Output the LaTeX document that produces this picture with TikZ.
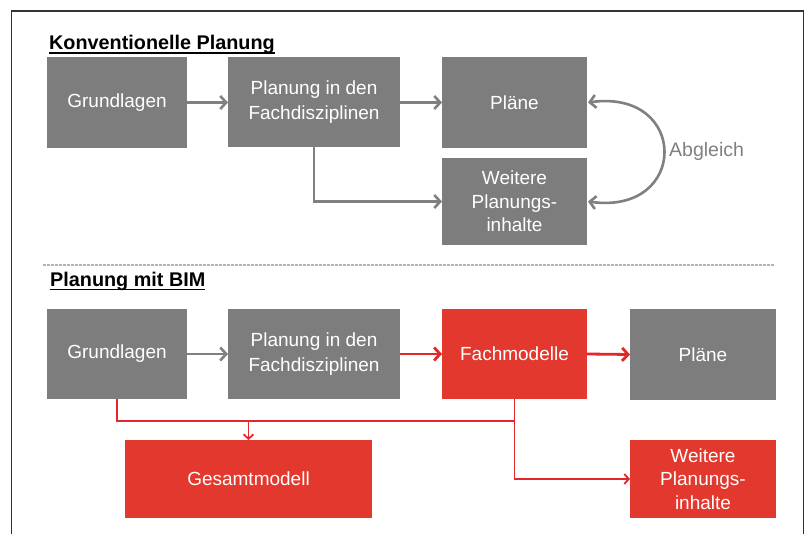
\documentclass[tikz,border=0pt]{standalone}
\usepackage{fontspec}
\setmainfont{Liberation Sans}
\usetikzlibrary{arrows.meta}
\definecolor{boxgray}{HTML}{7D7D7D}
\definecolor{boxred}{HTML}{E2382D}
\definecolor{linegray}{HTML}{808080}
\definecolor{linered}{HTML}{E3262A}
\definecolor{framecol}{HTML}{333333}
\begin{document}
\begin{tikzpicture}[x=1pt,y=-1pt,
  box/.style={fill=boxgray, text=white, inner sep=0pt, outer sep=0pt, align=center,
    font=\fontsize{19}{25}\selectfont},
  redbox/.style={box, fill=boxred},
  threeline/.style={font=\fontsize{19}{23.5}\selectfont},
  title/.style={inner sep=0pt, anchor=base west, font=\bfseries\fontsize{19.8}{22}\selectfont},
  garrow/.style={draw=linegray, line width=2.6pt, -{Straight Barb[length=6pt,width=13pt]}},
  rarrow/.style={draw=linered, line width=2.8pt, -{Straight Barb[length=6pt,width=13pt]}},
  rline/.style={draw=linered, line width=1.8pt},
  rthin/.style={rline, -{Straight Barb[length=4.5pt,width=10pt]}}
]
\useasboundingbox (0,0) rectangle (808,534);
\fill[white] (0,0) rectangle (808,534);
% frame
\draw[framecol, line width=1.6pt] (11.5,534) -- (11.5,10.8) -- (803.5,10.8) -- (803.5,534);

% titles
\node[title] (t1) at (49,50) {Konventionelle Planung};
\draw[line width=1.5pt] ([yshift=-2.8pt]t1.base west) -- ([yshift=-2.8pt]t1.base east);
\node[title] (t2) at (50,286.5) {Planung mit BIM};
\draw[line width=1.5pt] ([yshift=-2.8pt]t2.base west) -- ([yshift=-2.8pt]t2.base east);

% separator
\draw[gray!60, line width=1.2pt, dash pattern=on 2.5pt off 1.5pt] (43,265) -- (775,265);

% top diagram
\node[box, minimum width=140pt, minimum height=91pt] (g1) at (117,102.5) {Grundlagen};
\node[box, minimum width=172pt, minimum height=90pt] (p1) at (314,102.5) {Planung in den\\Fachdisziplinen};
\node[box, minimum width=145pt, minimum height=91pt] (pl1) at (514.5,102.5) {Pläne};
\node[box, threeline, minimum width=145pt, minimum height=87pt] (w1) at (514.5,201.5) {Weitere\\Planungs-\\inhalte};

\draw[garrow] (g1.east) -- (p1.west);
\draw[garrow] (p1.east) -- (pl1.west);
\draw[garrow] (p1.south) |- (w1.west);
\draw[draw=linegray, line width=2.6pt, {Straight Barb[length=6pt,width=13pt]}-{Straight Barb[length=6pt,width=13pt]}]
  ([xshift=1pt]pl1.east) .. controls +(101,-14) and +(101,14) .. ([xshift=1pt]w1.east);
\node[inner sep=0pt, anchor=west, text=linegray, font=\fontsize{19.5}{22}\selectfont] (ab) at (669,151.5) {Abgleich};

% bottom diagram
\node[box, minimum width=140pt, minimum height=90pt] (g2) at (117,354) {Grundlagen};
\node[box, minimum width=172pt, minimum height=90pt] (p2) at (314,354) {Planung in den\\Fachdisziplinen};
\node[redbox, minimum width=145pt, minimum height=90pt] (f2) at (514.5,354) {Fachmodelle};
\node[box, minimum width=146pt, minimum height=91pt] (pl2) at (703,354.5) {Pläne};
\node[redbox, minimum width=247pt, minimum height=78pt] (ge2) at (248.5,479) {Gesamtmodell};
\node[redbox, threeline, minimum width=146pt, minimum height=78pt] (w2) at (703,479) {Weitere\\Planungs-\\inhalte};

\draw[garrow] (g2.east) -- (p2.west);
\draw[rarrow] (p2.east) -- (f2.west);
\draw[rarrow] (f2.east) -- (pl2.west);

\coordinate (j1) at (514.5,421);
\coordinate (j2) at (248.5,421);
\draw[rline] (g2.south) |- (j1) -- (f2.south);
\draw[rthin] (j2) -- (ge2.north);
\draw[rthin] (f2.south) |- (w2.west);
\end{tikzpicture}
\end{document}
